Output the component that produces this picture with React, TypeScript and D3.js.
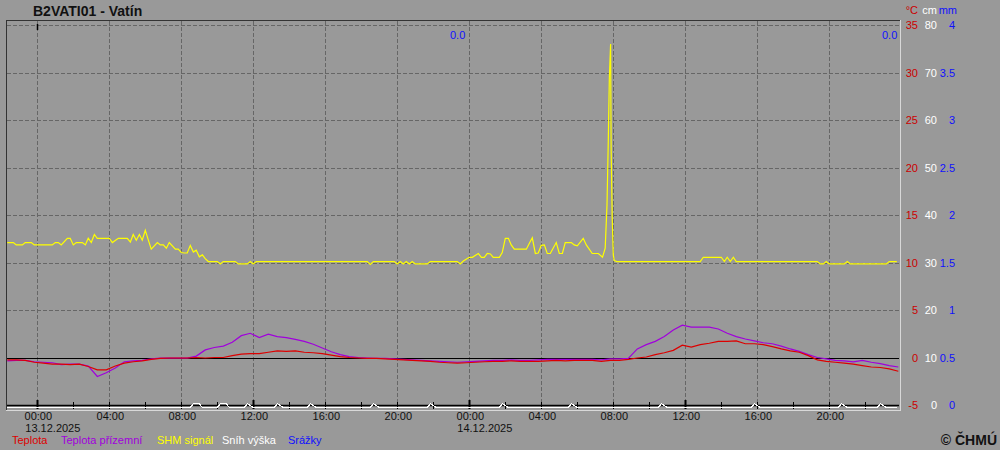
import { useMemo } from 'react'
import * as d3 from 'd3'

// hours since 13.12.2025 00:00
const tempStartHour = -5 / 3
const tempStepHours = 0.5

const teplota = [
  -0.25, -0.25, -0.3, -0.5, -0.6, -0.7, -0.7, -0.75, -0.7, -0.95,
  -1.3, -1.3, -0.9, -0.6, -0.45, -0.35, -0.2, -0.1, -0.05, -0.05,
  -0.05, 0.0, -0.05, 0.0, 0.0, 0.2, 0.35, 0.4, 0.4, 0.55,
  0.7, 0.65, 0.7, 0.55, 0.5, 0.4, 0.25, 0.1, 0.0, -0.05,
  -0.1, -0.1, -0.15, -0.2, -0.25, -0.3, -0.35, -0.4, -0.5, -0.55,
  -0.6, -0.55, -0.5, -0.45, -0.4, -0.4, -0.35, -0.4, -0.4, -0.4,
  -0.35, -0.3, -0.35, -0.3, -0.3, -0.3, -0.4, -0.3, -0.3, -0.2,
  -0.05, 0.05, 0.3, 0.5, 0.75, 1.3, 1.1, 1.35, 1.5, 1.7,
  1.7, 1.75, 1.45, 1.45, 1.35, 1.15, 0.9, 0.7, 0.55, 0.2,
  -0.25, -0.4, -0.5, -0.6, -0.7, -0.85, -1.0, -1.05, -1.2, -1.45
]

const teplotaPrizemni = [
  -0.35, -0.3, -0.3, -0.45, -0.5, -0.55, -0.75, -0.7, -0.7, -0.9,
  -2.0, -1.6, -1.1, -0.45, -0.35, -0.3, -0.15, -0.07, -0.07, -0.07,
  -0.07, 0.15, 0.8, 1.05, 1.2, 1.6, 2.3, 2.55, 2.1, 2.45,
  2.2, 2.1, 1.9, 1.7, 1.4, 1.0, 0.6, 0.3, 0.1, 0.0,
  -0.05, -0.1, -0.1, -0.15, -0.2, -0.25, -0.3, -0.35, -0.4, -0.45,
  -0.5, -0.45, -0.4, -0.35, -0.3, -0.3, -0.25, -0.3, -0.3, -0.25,
  -0.2, -0.2, -0.2, -0.2, -0.2, -0.2, -0.25, -0.15, -0.15, -0.1,
  0.9, 1.35, 1.7, 2.2, 2.9, 3.4, 3.2, 3.2, 3.2, 3.0,
  2.55, 2.2, 1.95, 1.75, 1.55, 1.45, 1.2, 0.9, 0.65, 0.3,
  0.0, -0.15, -0.3, -0.35, -0.45, -0.3, -0.5, -0.65, -0.85, -1.0
]

// [hour, cm]
const shmSignal: [number, number][] = [
  [-1.67, 34.2], [-1.33, 34.2], [-1.17, 33.7], [-0.83, 33.7], [-0.67, 34.2], [-0.33, 34.2],
  [-0.17, 33.7], [0.83, 33.7], [1.0, 34.2], [1.17, 34.2], [1.33, 33.7], [1.67, 35.1],
  [1.83, 35.1], [2.0, 33.7], [2.17, 34.2], [2.5, 34.2], [2.67, 33.7], [2.83, 35.1],
  [3.0, 34.2], [3.17, 35.9], [3.33, 35.1], [4.0, 35.1], [4.17, 34.2], [4.5, 35.1],
  [5.0, 35.1], [5.17, 34.3], [5.33, 35.9], [5.5, 34.7], [5.67, 35.9], [5.83, 34.7],
  [6.0, 36.8], [6.17, 34.7], [6.33, 32.8], [6.67, 34.2], [6.83, 33.7], [7.0, 33.7],
  [7.17, 33.0], [7.33, 34.2], [7.67, 32.8], [7.83, 32.8], [8.0, 32.1], [8.17, 32.0],
  [8.33, 32.0], [8.5, 33.6], [8.67, 32.2], [8.83, 32.6], [9.0, 31.2], [9.17, 31.6],
  [9.33, 30.8], [9.5, 30.2], [10.0, 30.2], [10.17, 29.7], [10.33, 30.2], [11.0, 30.2],
  [11.17, 29.7], [11.67, 29.7], [11.83, 30.2], [12.0, 29.7], [12.17, 30.2], [18.33, 30.2],
  [18.5, 29.6], [18.67, 30.2], [19.83, 30.2], [20.0, 29.7], [20.17, 30.2], [20.33, 29.7],
  [20.5, 30.2], [20.67, 29.7], [20.83, 30.2], [21.0, 29.7], [21.67, 29.7], [21.83, 30.2],
  [23.33, 30.2], [23.5, 29.7], [23.67, 30.3], [24.0, 31.1], [24.17, 31.1], [24.5, 31.9],
  [24.67, 31.1], [24.83, 31.1], [25.0, 31.9], [25.17, 31.8], [25.33, 31.1], [25.67, 31.1],
  [25.83, 32.1], [26.0, 35.1], [26.17, 35.1], [26.33, 33.7], [26.5, 32.8], [27.17, 32.8],
  [27.33, 34.0], [27.5, 35.2], [27.67, 31.9], [27.83, 32.0], [28.0, 33.6], [28.17, 33.7],
  [28.33, 31.9], [28.5, 31.9], [28.83, 34.2], [29.0, 31.9], [29.17, 31.9], [29.33, 34.2],
  [29.67, 34.2], [29.83, 33.7], [30.0, 33.5], [30.33, 35.1], [30.5, 33.7], [30.83, 31.9],
  [31.17, 31.9], [31.4, 31.1], [31.55, 33.0], [31.65, 42.1], [31.72, 55.4], [31.78, 68.8],
  [31.85, 76.0], [31.88, 54.0], [31.94, 39.3], [32.0, 31.6], [32.05, 30.4], [32.2, 30.2],
  [36.83, 30.2], [37.0, 31.1], [38.0, 31.1], [38.17, 30.2], [38.33, 31.1], [38.5, 30.2],
  [38.67, 31.1], [38.83, 30.2], [43.33, 30.2], [43.5, 29.7], [43.67, 29.7], [43.83, 30.2],
  [44.0, 29.7], [44.83, 29.7], [45.0, 30.2], [45.17, 29.7], [47.17, 29.7], [47.33, 30.2],
  [47.75, 30.2]
]

// [hour, cm]
const snihVyska: [number, number][] = [
  [-1.67, -0.55], [8.5, -0.55], [8.67, 0.3], [9.0, 0.3], [9.17, -0.55], [10.0, -0.55],
  [10.17, 0.3], [10.5, 0.3], [10.67, -0.55], [11.5, -0.55], [11.67, 0.3], [12.0, -0.55],
  [13.17, -0.55], [13.33, 0.3], [13.67, -0.55], [15.0, -0.55], [15.17, 0.3], [15.5, -0.55],
  [18.5, -0.55], [18.67, 0.3], [19.0, -0.55], [21.67, -0.55], [21.83, 0.3], [22.17, -0.55],
  [25.67, -0.55], [25.83, 0.3], [26.17, -0.55], [29.5, -0.55], [29.67, 0.3], [30.0, -0.55],
  [34.5, -0.55], [34.67, 0.3], [35.0, -0.55], [39.67, -0.55], [39.83, 0.3], [40.17, -0.55],
  [44.5, -0.55], [44.67, 0.3], [45.0, -0.55], [46.67, -0.55], [46.83, 0.3], [47.17, -0.55],
  [47.75, -0.55]
]

const tempTicks = [35, 30, 25, 20, 15, 10, 5, 0, -5]
const cmTicks = ['80', '70', '60', '50', '40', '30', '20', '10', '0']
const mmTicks = ['4', '3.5', '3', '2.5', '2', '1.5', '1', '0.5', '0']
const dailyPrecip = [
  { endHour: 24, label: '0.0' },
  { endHour: 48, label: '0.0' }
]
const legend = [
  { name: 'Teplota', color: '#dd0000', x: 12 },
  { name: 'Teplota přízemní', color: '#a000dc', x: 61 },
  { name: 'SHM signál', color: '#ffff00', x: 157 },
  { name: 'Sníh výška', color: '#ffffff', x: 222 },
  { name: 'Srážky', color: '#1010ff', x: 288 }
]

const font = '"Liberation Sans", Arial, sans-serif'
const start = new Date(2025, 11, 13, 0, 0)
const at = (h: number) => new Date(start.getTime() + h * 3600 * 1000)

const App = () => {
  const width = 1000
  const height = 450
  const plot = { left: 6, right: 900, top: 20, bottom: 410 }

  const x = d3.scaleTime().domain([at(0), at(48)]).range([37.3, 901.3])
  const yT = d3.scaleLinear().domain([-5, 35]).range([405, 25])
  const yCm = d3.scaleLinear().domain([0, 80]).range([405, 25])

  const tempPoints = (vals: number[]) =>
    vals.map((v, i) => [at(tempStartHour + i * tempStepHours), v] as [Date, number])

  const tLine = d3
    .line<[Date, number]>()
    .x((d) => x(d[0]))
    .y((d) => yT(d[1]))
  const cmLine = d3
    .line<[number, number]>()
    .x((d) => x(at(d[0])))
    .y((d) => yCm(d[1]))

  const ticks2h = useMemo(() => d3.timeHour.every(2)!.range(at(-1.67), at(47.8)), [])
  const ticks4h = ticks2h.filter((d) => d.getHours() % 4 === 0)
  const fmt = d3.timeFormat('%H:%M')
  const fmtDate = d3.timeFormat('%d.%m.%Y')

  const gridColor = '#666666'

  return (
    <div style={{ position: 'absolute', left: 0, top: 0 }}>
      <svg width={width} height={height} style={{ display: 'block', background: '#999999' }}>
        <rect x={0} y={0} width={width} height={height} fill='#999999' />
        <text x={33} y={16} fontFamily={font} fontSize={14} fontWeight='bold' fill='#111'>
          B2VATI01 - Vatín
        </text>

        {/* horizontal grid */}
        {tempTicks
          .filter((t) => t > 0)
          .map((t) => (
            <line
              key={'h' + t}
              x1={plot.left + 1}
              x2={plot.right - 1}
              y1={Math.round(yT(t)) + 0.5}
              y2={Math.round(yT(t)) + 0.5}
              stroke={gridColor}
              strokeDasharray='4,2'
            />
          ))}
        {/* vertical grid */}
        {ticks4h.map((d, i) => (
          <line
            key={'v' + i}
            x1={Math.round(x(d)) + 0.5}
            x2={Math.round(x(d)) + 0.5}
            y1={plot.top + 1}
            y2={405}
            stroke={gridColor}
            strokeDasharray='4,2'
          />
        ))}

        {/* 0 °C line */}
        <line
          x1={plot.left + 1}
          x2={plot.right - 1}
          y1={Math.round(yT(0)) + 0.5}
          y2={Math.round(yT(0)) + 0.5}
          stroke='#000'
        />

        {/* precipitation (zero) */}
        <line x1={7} x2={12} y1={405.5} y2={405.5} stroke='#1010ff' />

        {/* bottom axis */}
        <line x1={plot.left + 1} x2={plot.right - 1} y1={405.5} y2={405.5} stroke='#000' strokeWidth={1.5} />
        {ticks2h.map((d, i) => {
          const major = d.getHours() % 12 === 0
          const xx = Math.round(x(d)) + 0.5
          return (
            <line
              key={'t' + i}
              x1={xx}
              x2={xx}
              y1={major ? 400 : 402}
              y2={409}
              stroke='#000'
              strokeWidth={major ? 2 : 1}
            />
          )
        })}
        <line x1={37.5} x2={37.5} y1={24} y2={30} stroke='#000' strokeWidth={1.5} />

        {/* series */}
        <path d={cmLine(snihVyska) || ''} fill='none' stroke='#ffffff' strokeWidth={1.2} shapeRendering='crispEdges' />
        <path d={cmLine(shmSignal) || ''} fill='none' stroke='#ffff00' strokeWidth={1.2} />
        <path
          d={tLine(tempPoints(teplotaPrizemni)) || ''}
          fill='none'
          stroke='#a000dc'
          strokeWidth={1.2}
        />
        <path d={tLine(tempPoints(teplota)) || ''} fill='none' stroke='#dd0000' strokeWidth={1.2} />

        {/* frame */}
        <line x1={plot.left} x2={plot.right} y1={plot.top + 0.5} y2={plot.top + 0.5} stroke='#333' />
        <line x1={plot.left + 0.5} x2={plot.left + 0.5} y1={plot.top} y2={plot.bottom} stroke='#333' />
        <line x1={plot.right + 0.5} x2={plot.right + 0.5} y1={plot.top} y2={plot.bottom + 1} stroke='#d8d8d8' />
        <line x1={plot.left} x2={plot.right + 1} y1={plot.bottom + 0.5} y2={plot.bottom + 0.5} stroke='#d8d8d8' />

        {/* daily precipitation sums */}
        {dailyPrecip.map((p) => (
          <text
            key={p.endHour}
            x={x(at(p.endHour)) - 4}
            y={39}
            textAnchor='end'
            fontFamily={font}
            fontSize={11}
            fill='#1010ff'
          >
            {p.label}
          </text>
        ))}

        {/* right axes */}
        <text x={918} y={14} textAnchor='end' fontFamily={font} fontSize={11} fill='#cc0000'>
          °C
        </text>
        <text x={937} y={14} textAnchor='end' fontFamily={font} fontSize={11} fill='#ffffff'>
          cm
        </text>
        <text x={957} y={14} textAnchor='end' fontFamily={font} fontSize={11} fill='#1010ff'>
          mm
        </text>
        {tempTicks.map((t, i) => (
          <g key={'r' + t}>
            <text x={918} y={yT(t) + 4} textAnchor='end' fontFamily={font} fontSize={11} fill='#cc0000'>
              {t}
            </text>
            <text x={937} y={yT(t) + 4} textAnchor='end' fontFamily={font} fontSize={11} fill='#ffffff'>
              {cmTicks[i]}
            </text>
            <text x={955} y={yT(t) + 4} textAnchor='end' fontFamily={font} fontSize={11} fill='#1010ff'>
              {mmTicks[i]}
            </text>
          </g>
        ))}

        {/* time labels */}
        {ticks4h.map((d, i) => (
          <g key={'l' + i}>
            <text x={x(d) + 1} y={420} textAnchor='middle' fontFamily={font} fontSize={11} fill='#111'>
              {fmt(d)}
            </text>
            {d.getHours() === 0 && (
              <text x={x(d) - 12} y={432} fontFamily={font} fontSize={11} fill='#111'>
                {fmtDate(d)}
              </text>
            )}
          </g>
        ))}

        {/* legend */}
        {legend.map((l) => (
          <text key={l.name} x={l.x} y={444} fontFamily={font} fontSize={11} fill={l.color}>
            {l.name}
          </text>
        ))}

        <text x={997} y={445} textAnchor='end' fontFamily={font} fontSize={14} fontWeight='bold' fill='#111'>
          © ČHMÚ
        </text>
      </svg>
    </div>
  )
}

export default App
